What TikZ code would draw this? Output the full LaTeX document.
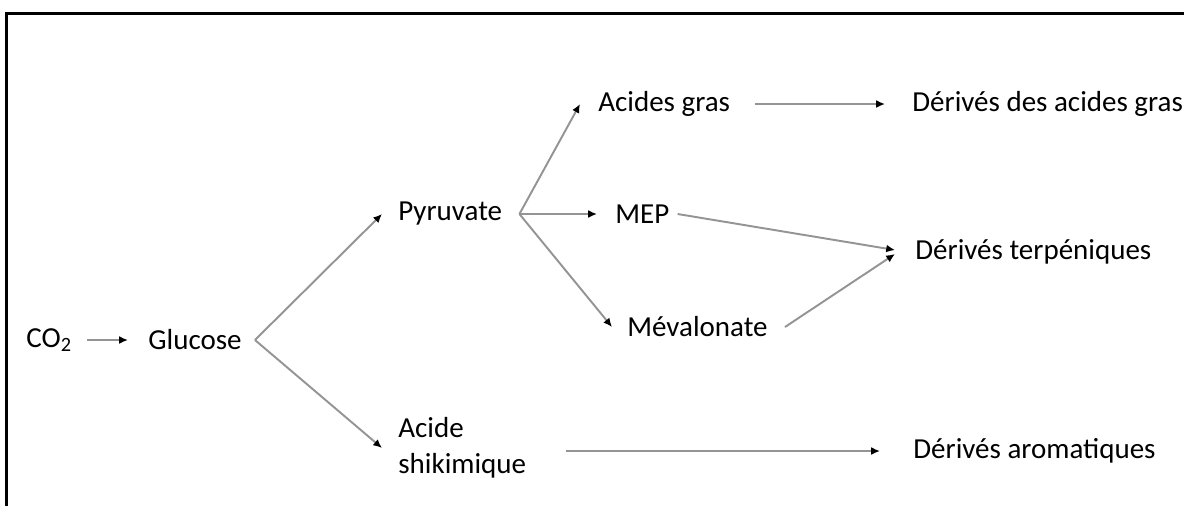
\documentclass[tikz,border=0pt]{standalone}
\usepackage{fontspec}
\setmainfont{Carlito}
\usepackage{tikz}
\usetikzlibrary{arrows.meta,positioning}
\tikzset{
lbl/.style={anchor=west,inner sep=0pt,align=left,font=\fontsize{16.5}{20.4}\selectfont},
arrow/.style={-{Latex[length=5pt,width=4.5pt,black]},draw=black!42,line width=1.1pt},
frame/.style={line width=1.7pt}
}

\begin{document}
\begin{tikzpicture}
\useasboundingbox (0,0) rectangle (23.68,-10.12);
\draw[frame] (0.13,-10.12) |- (23.68,-0.27);

\node[lbl] (co2) at (0.52,-6.8) {CO\textsubscript{2}};
\node[lbl] (glu) at (2.96,-6.8) {Glucose};
\node[lbl] (pyr) at (7.96,-4.28) {Pyruvate};
\node[lbl] (shik) at (7.96,-8.96) {Acide\\shikimique};
\node[lbl] (ag) at (11.96,-2.08) {Acides gras};
\node[lbl] (mep) at (12.3,-4.28) {MEP};
\node[lbl] (mev) at (12.54,-6.54) {Mévalonate};
\node[lbl] (dag) at (18.24,-2.08) {Dérivés des acides gras};
\node[lbl] (dter) at (18.3,-5.04) {Dérivés terpéniques};
\node[lbl] (darom) at (18.26,-9.02) {Dérivés aromatiques};

\draw[arrow] ([xshift=.3cm]co2.east)--([xshift=-.4cm]glu.west);
\draw[arrow] ([xshift=.26cm]glu.east)--([xshift=-.32cm]pyr.west);
\draw[arrow] ([xshift=.26cm]glu.east)--([xshift=-.32cm]shik.west);
\draw[arrow] ([xshift=.34cm]pyr.east)--([xshift=-.36cm]ag.west);
\draw[arrow] ([xshift=.34cm]pyr.east)--([xshift=-.36cm]mep.west);
\draw[arrow] ([xshift=.34cm]pyr.east)--([xshift=-.3cm]mev.west);
\draw[arrow] ([xshift=.5cm]ag.east)--([xshift=-.54cm]dag.west);
\draw[arrow] ([xshift=.16cm]mep.east)--([xshift=-.4cm,yshift=.04cm]dter.west);
\draw[arrow] ([xshift=.34cm]mev.east)--([xshift=-.4cm,yshift=-.04cm]dter.west);
\draw[arrow] ([xshift=.8cm]shik.east |- darom.west)--([xshift=-.66cm]darom.west);
\end{tikzpicture}
\end{document}
